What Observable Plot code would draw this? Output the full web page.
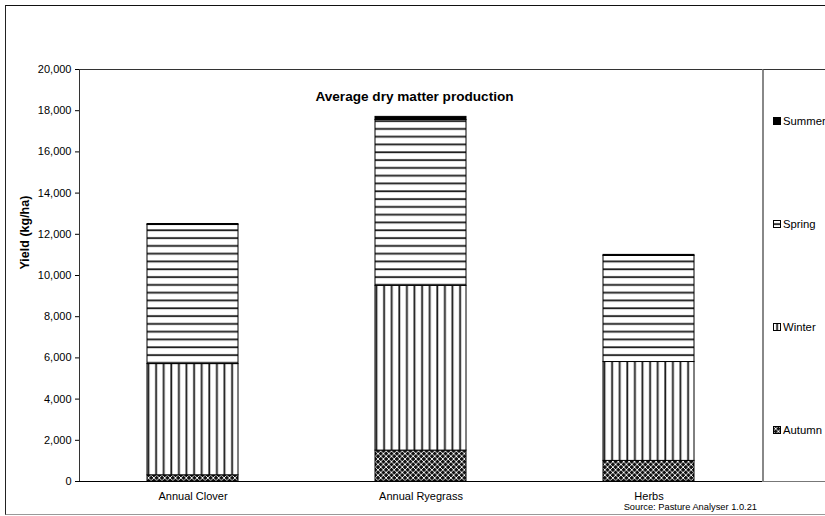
<!DOCTYPE html>
<html>
<head>
<meta charset="utf-8">
<script src="https://cdn.jsdelivr.net/npm/d3@7"></script>
<script src="https://cdn.jsdelivr.net/npm/@observablehq/plot@0.6"></script>
<style>
  body { margin: 0; background: #fff; font-family: "Liberation Sans", Arial, sans-serif; }
  #chart { position: relative; width: 825px; height: 516px; overflow: hidden; background: #fff; }
  #chart > svg.plot { position: absolute; left: 0; top: 0; }
  .outer { position: absolute; left: 5px; top: 5px; width: 830px; height: 508px;
           border-left: 1.5px solid #222; border-top: 1.5px solid #111; border-bottom: 1.5px solid #999; pointer-events: none; }
  .legend { position: absolute; left: 762px; top: 69px; width: 80px; height: 411px;
            border-left: 2px solid #888; border-top: 1px solid #333; border-bottom: 1px solid #777;
            display: flex; flex-direction: column; justify-content: space-around; }
  .legend .item { display: flex; align-items: center; margin-left: 9px; font-size: 11.3px; color: #000; white-space: nowrap; }
  .legend svg { margin-right: 2px; }
  .source { position: absolute; left: 600px; width: 157px; top: 503px; line-height: 8px; text-align: right; font-size: 9.3px; color: #000; }
</style>
</head>
<body>
<svg width="0" height="0" style="position:absolute">
  <defs>
    <pattern id="pat-autumn" patternUnits="userSpaceOnUse" width="5.4" height="5.4">
      <rect width="5.4" height="5.4" fill="#111"></rect>
      <path d="M0,0L5.4,5.4M5.4,0L0,5.4" stroke="#fff" stroke-width="0.9"></path>
    </pattern>
    <pattern id="pat-winter" patternUnits="userSpaceOnUse" width="7.6" height="8">
      <rect width="7.6" height="8" fill="#fff"></rect>
      <rect x="3.2" width="1.8" height="8" fill="#1a1a1a"></rect>
    </pattern>
    <pattern id="pat-spring" patternUnits="userSpaceOnUse" width="8" height="7.8">
      <rect width="8" height="7.8" fill="#fff"></rect>
      <rect y="3.2" width="8" height="1.8" fill="#1a1a1a"></rect>
    </pattern>
  </defs>
</svg>
<div id="chart"></div>
<script>
// Average dry matter production by pasture type, split by season (kg/ha)
const categories = ["Annual Clover", "Annual Ryegrass", "Herbs"];
const seasons = ["Autumn", "Winter", "Spring", "Summer"];
const autumn = [300, 1500, 1000];
const winter = [5400, 8000, 4800];
const spring = [6750, 8050, 5150];
const summer = [50, 150, 50];
const yTicks = [0, 2000, 4000, 6000, 8000, 10000, 12000, 14000, 16000, 18000, 20000];
const seasonFills = ["url(#pat-autumn)", "url(#pat-winter)", "url(#pat-spring)", "#000"];
const title = "Average dry matter production";
const yLabel = "Yield (kg/ha)";
const source = "Source: Pasture Analyser 1.0.21";

const seriesBySeason = {Autumn: autumn, Winter: winter, Spring: spring, Summer: summer};
const rows = [];
categories.forEach((c, i) => {
  seasons.forEach(s => rows.push({category: c, season: s, value: seriesBySeason[s][i]}));
});

const chart = Plot.plot({
  width: 825,
  height: 516,
  marginLeft: 79,
  marginRight: 62,
  marginTop: 69,
  marginBottom: 35,
  style: {fontSize: "11px", fontFamily: "'Liberation Sans', Arial, sans-serif", color: "#000", background: "transparent"},
  x: {domain: categories, paddingInner: 0.6, paddingOuter: 0.3, label: null},
  y: {domain: [0, 20000], label: null},
  color: {domain: seasons, range: seasonFills},
  marks: [
    Plot.frame({stroke: "#333"}),
    Plot.barY(rows, {
      x: "category",
      y: "value",
      fill: "season",
      order: seasons,
      stroke: "#000",
      strokeWidth: 1
    }),
    Plot.ruleY([0], {stroke: "#000", strokeWidth: 1.2}),
    Plot.axisY({ticks: yTicks, tickFormat: d3.format(","), tickSize: 4, tickPadding: 4, label: null, stroke: "#000"}),
    Plot.axisX({tickSize: 0, tickPadding: 11, label: null}),
    Plot.text([yLabel], {frameAnchor: "left", rotate: -90, dx: -55, dy: -6, fontWeight: "bold", fontSize: 12.5}),
    Plot.text([title], {frameAnchor: "top", dx: -7, dy: 22, fontWeight: "bold", fontSize: 13.6})
  ]
});
chart.classList.add("plot");

const root = document.getElementById("chart");
root.appendChild(chart);

const outer = document.createElement("div");
outer.className = "outer";
root.appendChild(outer);

// Legend, top to bottom in reverse stacking order
const legend = document.createElement("div");
legend.className = "legend";
seasons.slice().reverse().forEach(s => {
  const item = document.createElement("div");
  item.className = "item";
  const fill = seasonFills[seasons.indexOf(s)];
  item.innerHTML = `<svg width="8" height="8"><rect x="0.5" y="0.5" width="7" height="7" fill="${fill}" stroke="#000" stroke-width="1"></rect></svg><span>${s}</span>`;
  legend.appendChild(item);
});
root.appendChild(legend);

const src = document.createElement("div");
src.className = "source";
src.textContent = source;
root.appendChild(src);
</script>
</body>
</html>
